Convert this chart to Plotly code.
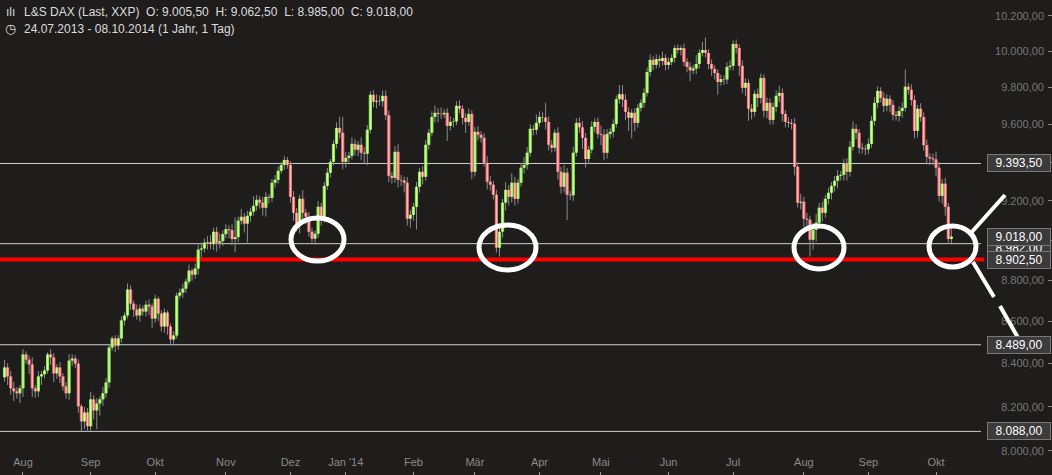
import numpy as np
import pandas as pd
import plotly.graph_objects as go

# ---------------- data ----------------
holidays = ["2013-12-24", "2013-12-25", "2013-12-26", "2013-12-31",
            "2014-01-01", "2014-04-18", "2014-04-21"]
dates = [d.strftime("%Y-%m-%d") for d in pd.bdate_range("2013-07-24", "2014-10-08")
         if d.strftime("%Y-%m-%d") not in holidays]

first_open = 8336

close = [
    8382, 8340, 8285, 8271, 8262, 8285, 8443, 8419, 8396, 8285,
    8271, 8340, 8350, 8368, 8443, 8429, 8354, 8382, 8340, 8294,
    8262, 8414, 8424, 8400, 8202, 8133, 8174, 8111, 8234, 8183,
    8215, 8234, 8262, 8312, 8476, 8519, 8485, 8519, 8605, 8629,
    8755, 8686, 8657, 8629, 8662, 8648, 8681, 8672, 8614, 8710,
    8638, 8576, 8643, 8576, 8514, 8533, 8725, 8740, 8759, 8794,
    8848, 8828, 8858,
    8952, 8958, 8987, 8990, 8980, 9042, 8987, 8995, 9030, 9055,
    9050, 9005, 9015, 9098, 9118, 9083, 9123, 9144, 9174, 9205,
    9190, 9164, 9220, 9215, 9293, 9308, 9355, 9386, 9412, 9386,
    9220, 9138, 9078, 9210, 9138, 9118, 9042, 9007, 9032, 9169,
    9108, 9277, 9345, 9402, 9497, 9582, 9556, 9402, 9423, 9434,
    9497, 9466, 9492, 9450, 9445, 9572, 9761, 9723, 9728, 9726,
    9755,
    9650, 9329, 9318, 9455, 9308, 9305, 9293, 9108, 9128, 9169,
    9272, 9350, 9324, 9492, 9556, 9641, 9663, 9657, 9655, 9663,
    9593, 9614, 9616, 9701, 9685, 9636, 9614, 9657, 9350, 9561,
    9545, 9529, 9397, 9298, 9283, 9231, 8962, 9042, 9190, 9256,
    9220, 9293, 9210, 9293, 9371, 9386, 9450, 9577, 9572, 9609,
    9641, 9638, 9614, 9492, 9476, 9556, 9350, 9272, 9345, 9231,
    9228, 9450, 9609,
    9585, 9529, 9417, 9466, 9588, 9614, 9550, 9545, 9450, 9550,
    9561, 9603, 9737, 9764, 9734, 9668, 9636, 9663, 9609, 9690,
    9717, 9771, 9886, 9953, 9925, 9958, 9947, 9964, 9925, 9942,
    9964, 10019, 10008, 10019, 9942, 9914, 9895, 9905, 9930, 9992,
    10008, 9992, 9930, 9903, 9880, 9831, 9847, 9845, 9914, 9920,
    10042, 10019, 9920, 9799, 9826, 9685, 9668, 9766, 9744, 9853,
    9674, 9717, 9625,
    9695, 9755, 9771, 9657, 9614, 9609, 9604, 9376, 9190, 9195,
    9108, 9103, 9002, 9052, 9088, 9164, 9138, 9210, 9241, 9277,
    9303, 9329, 9334, 9392, 9350, 9481, 9577, 9556, 9476, 9471,
    9468, 9497, 9620, 9717, 9782, 9744, 9701, 9739, 9706, 9652,
    9646, 9673, 9690, 9805, 9788, 9733, 9566, 9685, 9640, 9490,
    9428, 9420, 9415, 9371, 9225, 9288, 9169, 9005.5, 9018,
]

upper_wick = [
    35, 20, 25, 30, 20, 15, 25, 15, 20, 35,
    15, 25, 15, 20, 10, 25, 20, 15, 25, 15,
    20, 30, 20, 15, 20, 10, 25, 20, 35, 20,
    25, 15, 30, 20, 15, 10, 15, 15, 20, 15,
    30, 20, 15, 25, 20, 15, 20, 25, 15, 20,
    10, 15, 20, 10, 15, 20, 15, 20, 25, 15,
    30, 10, 25,
    25, 30, 20, 30, 35, 20, 25, 40, 20, 25,
    20, 30, 100, 20, 40, 20, 25, 20, 50, 25,
    20, 30, 25, 15, 20, 25, 20, 15, 20, 15,
    20, 30, 25, 20, 45, 20, 25, 20, 15, 30,
    20, 20, 25, 15, 20, 30, 60, 85, 30, 20,
    35, 25, 20, 40, 30, 25, 20, 25, 35, 30,
    30,
    30, 25, 20, 30, 40, 25, 20, 30, 25, 20,
    25, 20, 30, 25, 20, 30, 40, 25, 35, 20,
    25, 30, 20, 25, 30, 20, 25, 30, 20, 25,
    30, 20, 25, 35, 30, 20, 25, 30, 20, 40,
    25, 50, 30, 20, 25, 40, 30, 25, 20, 45,
    30, 25, 80, 30, 25, 20, 30, 25, 40, 25,
    20, 30, 25,
    30, 35, 25, 20, 30, 20, 25, 45, 30, 25,
    20, 25, 20, 50, 50, 30, 25, 20, 25, 20,
    20, 25, 25, 30, 20, 25, 20, 35, 20, 25,
    20, 15, 20, 15, 25, 20, 25, 20, 50, 20,
    45, 70, 20, 25, 20, 20, 25, 20, 25, 30,
    20, 25, 20, 30, 25, 20, 25, 20, 30, 25,
    20, 30, 25,
    25, 30, 40, 25, 20, 25, 20, 30, 25, 40,
    25, 30, 20, 35, 45, 25, 30, 20, 25, 20,
    25, 30, 20, 25, 30, 30, 40, 25, 20, 25,
    20, 30, 25, 30, 25, 20, 30, 25, 20, 25,
    20, 25, 30, 95, 20, 30, 25, 20, 30, 25,
    30, 20, 25, 40, 30, 25, 30, 20, 44.5,
]

lower_wick = [
    20, 40, 30, 45, 25, 45, 40, 20, 45, 40,
    30, 25, 40, 20, 15, 35, 40, 25, 30, 20,
    25, 30, 25, 20, 30, 45, 35, 25, 20, 40,
    85, 55, 30, 20, 25, 15, 30, 20, 20, 25,
    15, 30, 35, 20, 30, 20, 25, 40, 45, 20,
    35, 25, 30, 40, 25, 20, 15, 15, 25, 20,
    15, 30, 20,
    30, 40, 20, 35, 25, 30, 45, 30, 25, 20,
    40, 30, 65, 25, 20, 45, 95, 30, 20, 25,
    30, 40, 45, 30, 20, 25, 20, 15, 25, 20,
    30, 40, 35, 45, 30, 35, 25, 20, 30, 20,
    35, 20, 20, 25, 20, 25, 30, 40, 30, 25,
    20, 30, 35, 40, 50, 60, 20, 30, 35, 25,
    30,
    25, 35, 30, 25, 40, 30, 50, 35, 45, 30,
    115, 30, 40, 20, 25, 20, 30, 45, 25, 20,
    80, 25, 30, 20, 25, 35, 60, 20, 40, 25,
    30, 25, 20, 40, 30, 25, 25, 45, 30, 40,
    45, 30, 35, 25, 20, 30, 25, 20, 30, 25,
    20, 25, 40, 30, 25, 20, 40, 35, 30, 130,
    25, 30, 20,
    30, 60, 45, 25, 20, 30, 25, 55, 40, 30,
    25, 30, 20, 25, 40, 45, 70, 110, 45, 25,
    20, 25, 20, 25, 30, 20, 35, 25, 30, 25,
    20, 25, 20, 30, 25, 30, 60, 20, 30, 25,
    20, 25, 30, 40, 35, 70, 20, 30, 25, 20,
    25, 30, 55, 30, 45, 65, 40, 25, 50, 30,
    35, 40, 25,
    25, 30, 35, 40, 30, 25, 30, 45, 25, 35,
    40, 45, 85, 50, 60, 30, 45, 25, 30, 35,
    30, 40, 25, 30, 45, 25, 20, 35, 30, 25,
    30, 25, 20, 25, 30, 25, 35, 30, 40, 30,
    25, 30, 35, 20, 25, 30, 40, 35, 25, 30,
    40, 35, 30, 45, 30, 40, 45, 25, 20.5,
]

month_labels = ["Aug", "Sep", "Okt", "Nov", "Dez", "Jan '14", "Feb", "Mär",
                "Apr", "Mai", "Jun", "Jul", "Aug", "Sep", "Okt"]
y_ticks = [8000, 8200, 8400, 8600, 8800, 9000, 9200, 9400, 9600, 9800, 10000, 10200]

levels = [9393.5, 8982.0, 8489.0, 8088.0]
support = 8902.5

# ---------------- derived ----------------
n = len(close)
assert len(dates) == n == len(upper_wick) == len(lower_wick), (len(dates), n, len(upper_wick), len(lower_wick))
opens = [first_open] + close[:-1]
top = [max(o, c) for o, c in zip(opens, close)]
bot = [min(o, c) for o, c in zip(opens, close)]
high = [t + u for t, u in zip(top, upper_wick)]
low = [b - l for b, l in zip(bot, lower_wick)]

tickvals = []
seen = set()
for d in dates:
    ym = d[:7]
    if ym not in seen:
        seen.add(ym)
        if ym != "2013-07":
            tickvals.append(d)


def de(v):
    return f"{v:,.2f}".replace(",", "X").replace(".", ",").replace("X", ".")


BG = "#1e1d1c"
FONT = "Liberation Sans, Arial, sans-serif"

fig = go.Figure()


def segs(idx, lo_list, hi_list):
    xs, ys = [], []
    for i in idx:
        xs += [dates[i], dates[i], None]
        ys += [lo_list[i], hi_list[i], None]
    return xs, ys


# wicks
wx, wy = segs(range(n), low, high)
fig.add_trace(go.Scatter(x=wx, y=wy, mode="lines", line=dict(color="#8c8c8c", width=1),
                         hoverinfo="skip", showlegend=False))

# candle bodies: outline stroke + lighter inner stroke
up_idx = [i for i in range(n) if close[i] >= opens[i]]
dn_idx = [i for i in range(n) if close[i] < opens[i]]
for idx, outer, inner in [(up_idx, "#8fea4c", "#d6ffb6"), (dn_idx, "#f47272", "#ffcaca")]:
    bx, by = segs(idx, bot, top)
    fig.add_trace(go.Scatter(x=bx, y=by, mode="lines", line=dict(color=outer, width=3.2),
                             hoverinfo="skip", showlegend=False))
    fig.add_trace(go.Scatter(x=bx, y=by, mode="lines", line=dict(color=inner, width=1),
                             hoverinfo="skip", showlegend=False))

# horizontal levels
for v in levels:
    fig.add_shape(type="line", xref="paper", x0=0, x1=0.937, yref="y", y0=v, y1=v,
                  line=dict(color="#cfcfcf", width=1), layer="below")
fig.add_shape(type="line", xref="paper", x0=0, x1=0.94, yref="y", y0=support, y1=support,
              line=dict(color="#ff0000", width=4), layer="below")

# price label boxes
label_vals = [(9393.5, 0), (8982.0, -4), (close[-1], 0), (support, 0), (8489.0, 0), (8088.0, 0)]
for v, sh in label_vals:
    fig.add_annotation(xref="paper", x=1.0035, xanchor="right", yref="y", y=np.log10(v),
                       yanchor="middle", yshift=sh, text=de(v), showarrow=False,
                       font=dict(color="#ffffff", size=12, family=FONT),
                       bgcolor="#3b3b3b", bordercolor="#777777", borderwidth=1,
                       borderpad=1, width=60, align="center")

# drawn circles and lines
W = 1047.0
H = 471.0
def px(x):
    return x / W
def py(y):
    return 1 - y / H

for (x0, y0, x1, y1) in [(291, 218, 344, 261), (479, 225, 536, 270),
                         (794, 226, 844, 269), (929, 226, 976, 267)]:
    fig.add_shape(type="circle", xref="paper", yref="paper",
                  x0=px(x0), x1=px(x1), y0=py(y1), y1=py(y0),
                  line=dict(color="#ffffff", width=5))
for (x0, y0, x1, y1) in [(970, 234, 1005, 195), (973, 262, 994, 297), (1000, 306, 1021, 343)]:
    fig.add_shape(type="line", xref="paper", yref="paper",
                  x0=px(x0), x1=px(x1), y0=py(y0), y1=py(y1),
                  line=dict(color="#ffffff", width=4))

# header text
header1 = (f"L&S DAX (Last, XXP)  O: {de(opens[-1])}  H: {de(high[-1])}  "
           f"L: {de(low[-1])}  C: {de(close[-1])}")
header2 = "24.07.2013 - 08.10.2014 (1 Jahr, 1 Tag)"
fig.add_annotation(xref="paper", yref="paper", x=px(22), y=py(12), xanchor="left", yanchor="middle",
                   text=header1, showarrow=False, font=dict(color="#dcdcdc", size=12, family=FONT))
fig.add_annotation(xref="paper", yref="paper", x=px(22), y=py(29), xanchor="left", yanchor="middle",
                   text=header2, showarrow=False, font=dict(color="#dcdcdc", size=12, family=FONT))
fig.add_annotation(xref="paper", yref="paper", x=px(4), y=py(12), xanchor="left", yanchor="middle",
                   text="ılı", showarrow=False, font=dict(color="#dcdcdc", size=12, family=FONT))
fig.add_annotation(xref="paper", yref="paper", x=px(3), y=py(29), xanchor="left", yanchor="middle",
                   text="◷", showarrow=False, font=dict(color="#dcdcdc", size=13, family="DejaVu Sans"))

fig.update_layout(
    width=1052, height=475, autosize=False,
    margin=dict(l=0, r=5, t=0, b=4),
    paper_bgcolor=BG, plot_bgcolor=BG,
    separators=",.",
    font=dict(family=FONT, color="#888888", size=11),
    showlegend=False,
    xaxis=dict(type="category", range=[-1.48, 339.1], tickvals=tickvals, ticktext=month_labels,
               ticks="outside", ticklen=4, tickcolor="#999999", ticklabelposition="inside",
               showgrid=False, zeroline=False, showline=False,
               tickfont=dict(color="#8a8a8a", size=11, family=FONT)),
    yaxis=dict(type="log", side="right", range=[np.log10(7911), np.log10(10291.5)],
               tickvals=y_ticks, tickformat=",.2f", ticks="outside", ticklen=4,
               tickcolor="#888888", ticklabelposition="inside",
               showgrid=False, zeroline=False, showline=False,
               tickfont=dict(color="#777777", size=11, family=FONT)),
)

fig.write_html("out.html", config={"displayModeBar": False},
               post_script="document.body.style.margin='0';document.body.style.overflow='hidden';"
                           "document.body.style.background='#1e1d1c';")
